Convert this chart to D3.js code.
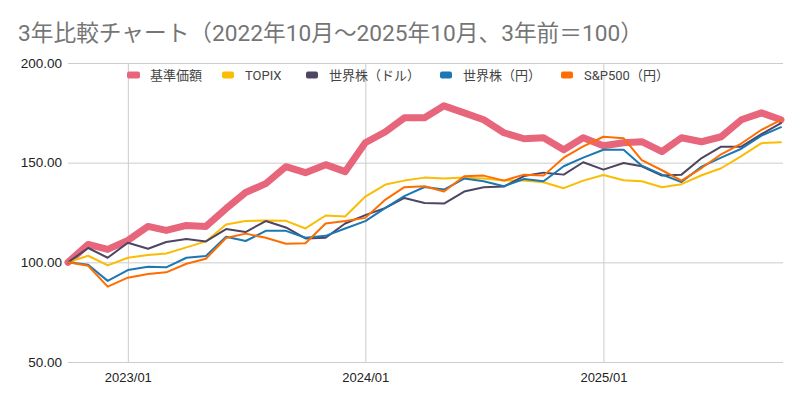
<!DOCTYPE html>
<html>
<head>
<meta charset="utf-8">
<script src="https://cdn.jsdelivr.net/npm/d3@7.9.0/dist/d3.min.js"></script>
<style>
  body { margin: 0; background: #fff; }
  svg { display: block; font-family: Roboto, "Noto Sans CJK JP", sans-serif; }
</style>
</head>
<body>
<svg id="chart" width="800" height="403"></svg>
<script>
// monthly points, 2022/10 .. 2025/10
const months = d3.timeMonth.range(new Date(2022, 9, 1), new Date(2025, 9, 2));

const seriesNames = ['基準価額', 'TOPIX', '世界株（ドル）', '世界株（円）', 'S&P500（円）'];
const seriesColors = ['#e8667c', '#fbbc04', '#4d4562', '#1b78b4', '#ff6d01'];

const fundNav = [100,109,106.5,111,118,116,118.5,118,127,135,139.5,148,145,149,145.5,160,165.5,172.5,172.5,178.5,175,171.5,165,162,162.5,156.5,162.5,158.5,160,160.5,155.5,162.5,160.5,163,171.5,175,171.5];
const topix = [100,103.3,98.5,102.3,103.7,104.4,107.5,110.5,119,120.7,121,120.8,117,123.5,123,133,139,141,142.5,142,142.5,142,141,141,140.2,137.2,141,143.8,141.2,140.7,137.7,139.2,143.7,147.2,153.3,159.8,160.2];
const worldUsd = [100,107.2,102.3,109.8,106.8,110.2,111.7,110.5,116.7,115.2,120.7,117.5,112,112.3,119.5,123.7,127.3,132.3,129.8,129.5,135.5,137.7,138,143.3,145,144,150.2,146.5,149.8,148.2,143.5,144,152.3,158,158,164.3,169.8];
const worldJpy = [100,98.8,90.7,96.1,97.8,97.5,102.3,103.2,112.8,110.7,115.8,115.8,112.3,113.3,117,120.7,127.3,133.2,137.8,136.5,142,140.7,138.2,141.8,140.7,148.2,152.5,156.5,156.5,148.5,144,140.3,148,152.5,157,163.6,167.8];
const spJpy = [100,98.3,87.8,92.3,94.2,95,99.3,101.8,112.2,114.4,112.3,109.3,109.6,119.5,120.7,122.3,131.5,137.7,138.2,135.5,143.2,143.5,141,144,143.5,152.5,158.2,163,162.3,151.3,146.2,141,147.3,154.2,159.6,166.5,171.5];

const yTicks = [50, 100, 150, 200];
const xTickDates = [new Date(2023, 0, 1), new Date(2024, 0, 1), new Date(2025, 0, 1)];

const allSeries = [fundNav, topix, worldUsd, worldJpy, spJpy];

const svg = d3.select('#chart');

const x = d3.scaleTime()
  .domain([months[0], months[months.length - 1]])
  .range([68, 781]);
const y = d3.scaleLinear().domain([50, 200]).range([362, 63]);

// title
svg.append('text')
  .attr('x', 18)
  .attr('y', 41)
  .attr('fill', '#757575')
  .style('font-size', '22.7px')
  .text('3年比較チャート（2022年10月～2025年10月、3年前＝100）');

// horizontal grid + labels
const yAxis = d3.axisLeft(y)
  .tickValues(yTicks)
  .tickSize(-(783 - 68))
  .tickPadding(6)
  .tickFormat(d3.format('.2f'));
const gy = svg.append('g').attr('transform', 'translate(68,0)').call(yAxis);
gy.select('.domain').remove();
gy.selectAll('line').attr('stroke', '#cccccc');
gy.selectAll('text').attr('fill', '#222').style('font-size', '13.5px').attr('x', -6);

// vertical grid + labels
const xAxis = d3.axisBottom(x)
  .tickValues(xTickDates)
  .tickSize(-(362 - 63))
  .tickPadding(11)
  .tickFormat(d3.timeFormat('%Y/%m'));
const gx = svg.append('g').attr('transform', 'translate(0,362)').call(xAxis);
gx.select('.domain').remove();
gx.selectAll('line').attr('stroke', '#cccccc');
gx.selectAll('text').attr('fill', '#222').style('font-size', '13px');

// lines
const line = d3.line()
  .x((d, i) => x(months[i]))
  .y(d => y(d));

allSeries.forEach((vals, k) => {
  svg.append('path')
    .datum(vals)
    .attr('d', line)
    .attr('fill', 'none')
    .attr('stroke', seriesColors[k])
    .attr('stroke-width', k === 0 ? 7 : 2)
    .attr('stroke-linejoin', 'round')
    .attr('stroke-linecap', 'round');
});

// legend
const legendX = [127, 222, 306, 440, 561];
const legend = svg.append('g').attr('transform', 'translate(0,75)');
seriesNames.forEach((name, k) => {
  const g = legend.append('g').attr('transform', `translate(${legendX[k]},0)`);
  g.append('rect')
    .attr('x', 0).attr('y', -3.5)
    .attr('width', k === 0 ? 13 : 12).attr('height', 7)
    .attr('rx', 2)
    .attr('fill', seriesColors[k]);
  g.append('text')
    .attr('x', 23)
    .attr('dy', '0.36em')
    .attr('fill', '#444')
    .style('font-size', '13px')
    .text(name);
});
</script>
</body>
</html>
